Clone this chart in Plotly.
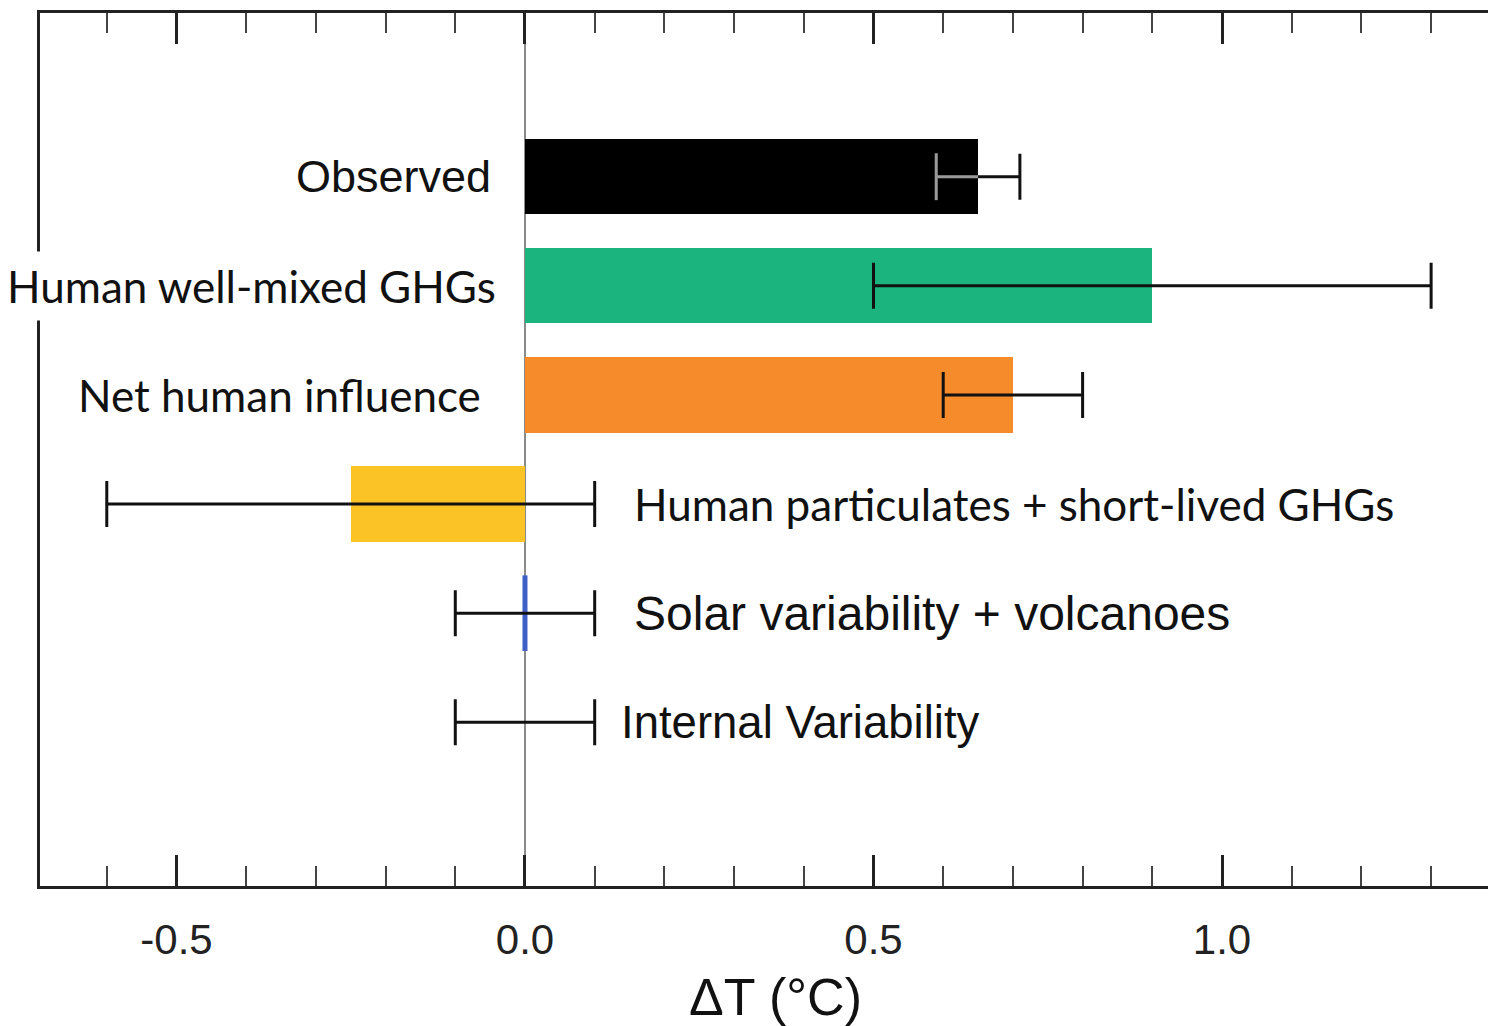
import plotly.graph_objects as go

# Attributed contributions to warming (°C) with likely ranges
categories = ["Observed", "Human well-mixed GHGs", "Net human influence",
              "Human particulates + short-lived GHGs", "Solar variability + volcanoes",
              "Internal Variability"]
values = [0.65, 0.90, 0.70, -0.25, 0.0, 0.0]
errors = [0.06, 0.40, 0.10, 0.35, 0.10, 0.10]
bar_colors = ["#000000", "#1bb47e", "#f58b2b", "#fcc326", "#3f5fc6", "rgba(0,0,0,0)"]
tick_vals = [-0.5, 0.0, 0.5, 1.0]
tick_text = ["-0.5", "0.0", "0.5", "1.0"]
x_title = "ΔT (°C)"

positions = list(range(len(categories)))

fig = go.Figure()

# Bars (non-zero contributions)
fig.add_trace(go.Bar(
    x=values, y=positions, orientation="h",
    marker=dict(color=bar_colors, line=dict(width=0)),
    width=0.69, showlegend=False, hoverinfo="skip",
))

# Near-zero solar/volcanic contribution drawn as a thin vertical mark
solar_i = categories.index("Solar variability + volcanoes")
fig.add_trace(go.Scatter(
    x=[values[solar_i]], y=[positions[solar_i]], mode="markers",
    marker=dict(symbol="line-ns", size=54, line=dict(width=5, color="#3f5fc6")),
    showlegend=False, hoverinfo="skip",
))

# Likely-range error bars
fig.add_trace(go.Scatter(
    x=values, y=positions, mode="markers",
    marker=dict(size=1, color="rgba(0,0,0,0)"),
    error_x=dict(type="data", array=errors, symmetric=True,
                 color="#111111", thickness=3, width=23),
    showlegend=False, hoverinfo="skip",
))

# Part of the observed range lying inside the black bar, shown in grey
obs_i = categories.index("Observed")
obs_lo = values[obs_i] - errors[obs_i]
fig.add_trace(go.Scatter(
    x=[obs_lo, values[obs_i]], y=[positions[obs_i]] * 2, mode="lines",
    line=dict(color="#9a9a9a", width=3),
    showlegend=False, hoverinfo="skip",
))
fig.add_trace(go.Scatter(
    x=[obs_lo], y=[positions[obs_i]], mode="markers",
    marker=dict(symbol="line-ns", size=33.5, line=dict(width=3, color="#9a9a9a")),
    showlegend=False, hoverinfo="skip",
))

# Category labels
helv = "Liberation Sans, Arial, sans-serif"
calib = "Lato, Open Sans, sans-serif"
label_specs = [
    # (text, x, anchor, font, size, white box)
    (categories[0], -0.047, "right", helv, 45, False),
    (categories[1], -0.029, "right", calib, 44, True),
    (categories[2], -0.062, "right", calib, 44, False),
    (categories[3], 0.1435, "left", calib, 44, True),
    (categories[4], 0.155, "left", helv, 48, False),
    (categories[5], 0.136, "left", helv, 45.5, False),
]
for (txt, xa, anchor, fam, size, boxed), yp in zip(label_specs, positions):
    fig.add_annotation(
        x=xa, y=yp, xref="x", yref="y", text=txt, showarrow=False,
        xanchor=anchor, yanchor="middle",
        font=dict(family=fam, size=size, color="#111111"),
        bgcolor="white" if boxed else "rgba(0,0,0,0)",
        borderpad=8 if boxed else 0,
    )

# Axis title placed under the 0.35 °C position
fig.add_annotation(
    x=0.359, y=-0.092, xref="x", yref="paper", text=x_title, showarrow=False,
    xanchor="center", yanchor="top",
    font=dict(family=helv, size=52, color="#111111"),
)

fig.update_layout(
    width=1488, height=1026,
    margin=dict(l=40, r=0, t=13, b=139.5),
    paper_bgcolor="white", plot_bgcolor="white",
    bargap=0,
    xaxis=dict(
        range=[-0.6958, 1.3816],
        tickvals=tick_vals, ticktext=tick_text,
        ticks="inside", ticklen=31, tickwidth=2.5, tickcolor="#222222",
        minor=dict(dtick=0.1, tick0=0, ticks="inside", ticklen=20,
                   tickwidth=2, tickcolor="#444444", showgrid=False),
        showgrid=False,
        showline=True, linewidth=3, linecolor="#222222", mirror="allticks",
        zeroline=True, zerolinecolor="#8a8a8a", zerolinewidth=2,
        tickfont=dict(family=helv, size=42, color="#222222"),
        ticklabelstandoff=15,
    ),
    yaxis=dict(
        range=[6.5, -1.5],
        showticklabels=False, ticks="", showgrid=False, zeroline=False,
        showline=True, linewidth=3, linecolor="#222222", mirror=False,
    ),
)

fig.write_html("out.html")
